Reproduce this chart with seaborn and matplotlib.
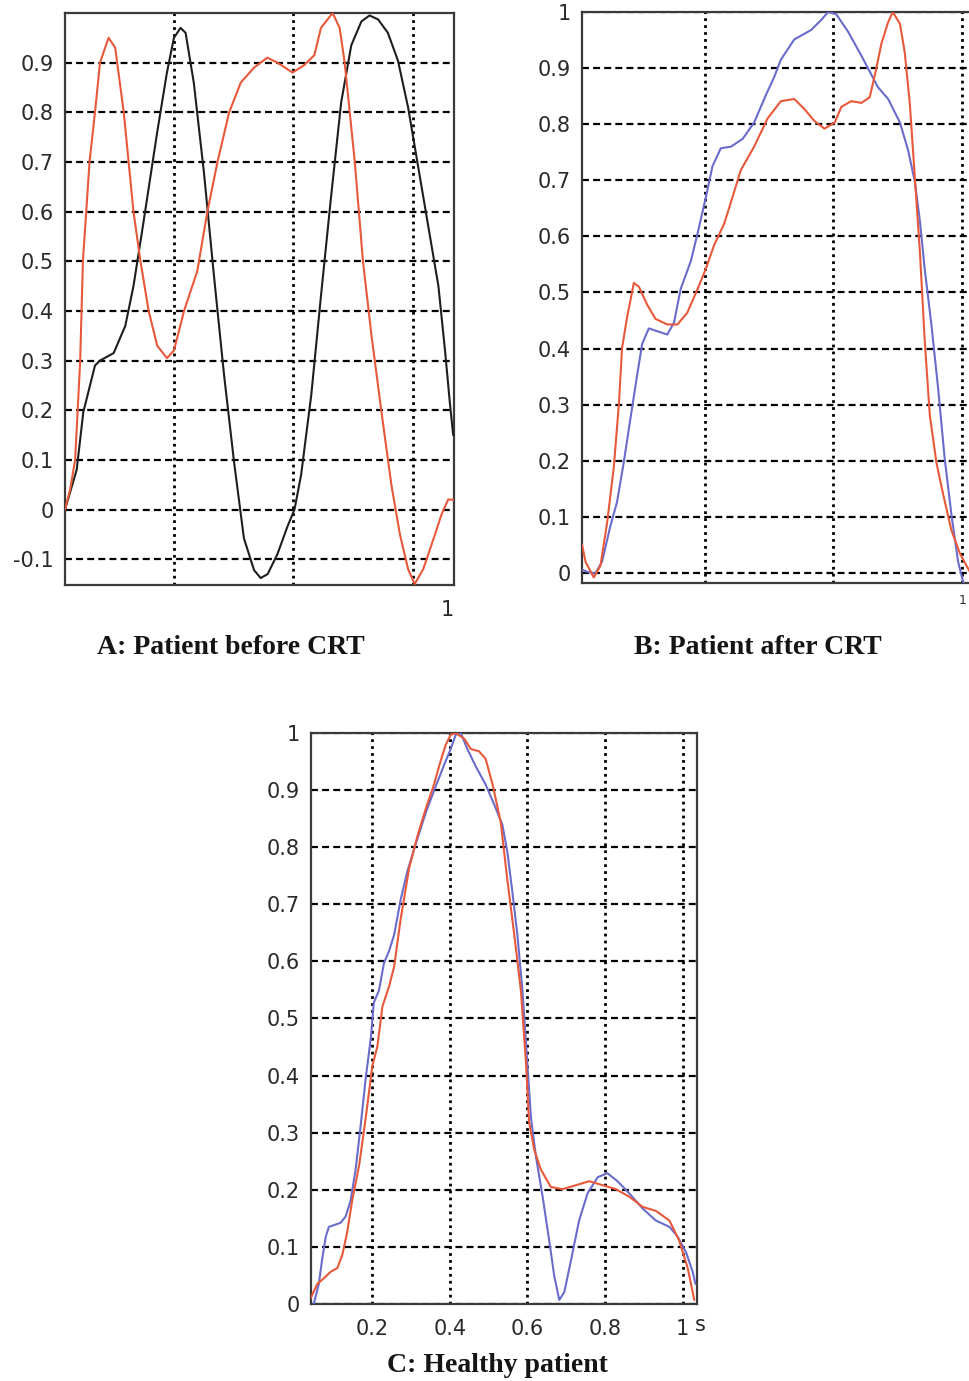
import numpy as np
import pandas as pd
import matplotlib
matplotlib.use("Agg")
import matplotlib.pyplot as plt
import seaborn as sns

# === Panel A: patient before CRT ===
a_black_x = [0.000, 0.030, 0.047, 0.077, 0.090, 0.125, 0.155, 0.176, 0.202, 0.237, 0.262,
             0.280, 0.297, 0.310, 0.331, 0.357, 0.383, 0.409, 0.435, 0.460, 0.486, 0.503,
             0.521, 0.546, 0.572, 0.590, 0.607, 0.633, 0.658, 0.684, 0.710, 0.736, 0.762,
             0.783, 0.805, 0.830, 0.856, 0.882, 0.908, 0.934, 0.960, 0.977, 0.990, 0.998]
a_black_y = [0.000, 0.080, 0.196, 0.290, 0.300, 0.315, 0.370, 0.450, 0.580, 0.760, 0.880,
             0.950, 0.970, 0.960, 0.860, 0.680, 0.470, 0.270, 0.093, -0.058, -0.122, -0.138,
             -0.130, -0.090, -0.034, 0.000, 0.070, 0.230, 0.430, 0.630, 0.820, 0.935, 0.983,
             0.995, 0.987, 0.960, 0.904, 0.810, 0.690, 0.570, 0.450, 0.320, 0.210, 0.150]

a_red_x = [0.000, 0.013, 0.026, 0.039, 0.046, 0.063, 0.077, 0.090, 0.112, 0.129, 0.151,
           0.176, 0.194, 0.215, 0.237, 0.262, 0.280, 0.306, 0.340, 0.366, 0.392, 0.422,
           0.452, 0.486, 0.520, 0.546, 0.585, 0.615, 0.641, 0.658, 0.688, 0.706, 0.719,
           0.745, 0.766, 0.788, 0.813, 0.839, 0.861, 0.882, 0.899, 0.921, 0.947, 0.968,
           0.985, 0.998]
a_red_y = [0.000, 0.040, 0.100, 0.300, 0.500, 0.700, 0.800, 0.900, 0.950, 0.930, 0.800,
           0.600, 0.500, 0.400, 0.330, 0.305, 0.320, 0.400, 0.480, 0.600, 0.700, 0.800,
           0.860, 0.890, 0.910, 0.900, 0.880, 0.895, 0.915, 0.970, 1.000, 0.970, 0.900,
           0.700, 0.500, 0.350, 0.200, 0.050, -0.050, -0.120, -0.150, -0.120, -0.060, -0.010,
           0.020, 0.020]

# === Panel B: patient after CRT ===
b_blue_x = [0.000, 0.013, 0.034, 0.051, 0.072, 0.089, 0.106, 0.123, 0.140, 0.153, 0.170,
            0.187, 0.217, 0.234, 0.251, 0.277, 0.294, 0.315, 0.332, 0.353, 0.379, 0.409,
            0.438, 0.468, 0.489, 0.506, 0.540, 0.583, 0.609, 0.626, 0.647, 0.677, 0.711,
            0.753, 0.779, 0.809, 0.830, 0.847, 0.860, 0.872, 0.889, 0.906, 0.923, 0.940,
            0.957, 0.970, 0.983]
b_blue_y = [0.006, 0.002, -0.001, 0.020, 0.083, 0.126, 0.196, 0.274, 0.351, 0.408, 0.436,
            0.432, 0.425, 0.446, 0.506, 0.556, 0.605, 0.669, 0.725, 0.757, 0.760, 0.774,
            0.803, 0.852, 0.884, 0.915, 0.951, 0.968, 0.986, 1.000, 0.996, 0.965, 0.922,
            0.866, 0.845, 0.803, 0.753, 0.697, 0.626, 0.542, 0.443, 0.330, 0.203, 0.104,
            0.020, -0.016, -0.030]

b_red_x = [0.000, 0.009, 0.030, 0.047, 0.064, 0.081, 0.094, 0.102, 0.115, 0.132, 0.145,
           0.166, 0.187, 0.217, 0.243, 0.268, 0.294, 0.315, 0.336, 0.362, 0.379, 0.404,
           0.438, 0.472, 0.506, 0.540, 0.566, 0.591, 0.617, 0.643, 0.660, 0.685, 0.711,
           0.732, 0.745, 0.762, 0.779, 0.791, 0.809, 0.821, 0.834, 0.847, 0.860, 0.872,
           0.885, 0.902, 0.919, 0.940, 0.962, 0.987]
b_red_y = [0.051, 0.020, -0.008, 0.013, 0.090, 0.189, 0.302, 0.401, 0.457, 0.517, 0.510,
           0.478, 0.453, 0.443, 0.443, 0.464, 0.506, 0.542, 0.584, 0.623, 0.661, 0.718,
           0.760, 0.810, 0.841, 0.845, 0.827, 0.806, 0.792, 0.803, 0.831, 0.841, 0.838,
           0.848, 0.887, 0.944, 0.982, 1.000, 0.979, 0.929, 0.838, 0.704, 0.570, 0.415,
           0.281, 0.196, 0.140, 0.076, 0.034, 0.002]

# === Panel C: healthy patient ===
c_blue_x = [0.049, 0.062, 0.071, 0.080, 0.088, 0.105, 0.118, 0.131, 0.144, 0.157, 0.170,
            0.183, 0.196, 0.204, 0.217, 0.230, 0.243, 0.256, 0.273, 0.290, 0.312, 0.338,
            0.363, 0.385, 0.402, 0.415, 0.428, 0.445, 0.467, 0.492, 0.514, 0.535, 0.548,
            0.561, 0.574, 0.587, 0.600, 0.609, 0.622, 0.639, 0.656, 0.669, 0.682, 0.695,
            0.712, 0.733, 0.755, 0.781, 0.806, 0.832, 0.862, 0.897, 0.931, 0.966, 0.987,
            1.009, 1.026, 1.033]
c_blue_y = [0.000, 0.035, 0.080, 0.118, 0.135, 0.139, 0.142, 0.153, 0.181, 0.236, 0.313,
            0.396, 0.465, 0.528, 0.549, 0.597, 0.618, 0.646, 0.708, 0.757, 0.806, 0.861,
            0.906, 0.944, 0.972, 0.997, 1.000, 0.972, 0.941, 0.910, 0.875, 0.840, 0.792,
            0.722, 0.646, 0.549, 0.417, 0.326, 0.257, 0.188, 0.111, 0.049, 0.007, 0.021,
            0.076, 0.146, 0.194, 0.222, 0.229, 0.215, 0.194, 0.167, 0.146, 0.135, 0.118,
            0.090, 0.056, 0.035]

c_red_x = [0.041, 0.058, 0.075, 0.092, 0.110, 0.123, 0.135, 0.148, 0.166, 0.183, 0.200,
           0.213, 0.226, 0.243, 0.256, 0.273, 0.295, 0.316, 0.338, 0.359, 0.376, 0.389,
           0.402, 0.415, 0.437, 0.454, 0.475, 0.492, 0.510, 0.531, 0.548, 0.566, 0.583,
           0.596, 0.604, 0.617, 0.634, 0.660, 0.690, 0.725, 0.759, 0.794, 0.828, 0.862,
           0.897, 0.931, 0.966, 0.991, 1.013, 1.030]
c_red_y = [0.010, 0.035, 0.045, 0.056, 0.063, 0.087, 0.125, 0.181, 0.243, 0.326, 0.417,
           0.451, 0.521, 0.556, 0.590, 0.674, 0.764, 0.819, 0.868, 0.910, 0.951, 0.979,
           0.997, 1.000, 0.990, 0.972, 0.968, 0.955, 0.910, 0.844, 0.743, 0.646, 0.549,
           0.424, 0.319, 0.271, 0.236, 0.205, 0.201, 0.208, 0.215, 0.208, 0.201, 0.188,
           0.170, 0.163, 0.146, 0.111, 0.063, 0.007]

# === Axis ticks ===
a_yticks = [-0.1, 0, 0.1, 0.2, 0.3, 0.4, 0.5, 0.6, 0.7, 0.8, 0.9]
a_ylabels = ["-0.1", "0", "0.1", "0.2", "0.3", "0.4", "0.5", "0.6", "0.7", "0.8", "0.9"]
a_xticks = [0.280, 0.586, 0.895, 1.0]
a_xlabels = ["", "", "", "1"]

b_yticks = [0, 0.1, 0.2, 0.3, 0.4, 0.5, 0.6, 0.7, 0.8, 0.9, 1.0]
b_ylabels = ["0", "0.1", "0.2", "0.3", "0.4", "0.5", "0.6", "0.7", "0.8", "0.9", "1"]
b_xticks = [0.313, 0.639, 0.967, 1.0]
b_xlabels = ["", "", "", ""]

c_yticks = b_yticks
c_ylabels = b_ylabels
c_xticks = [0.2, 0.4, 0.6, 0.8, 1.0]
c_xlabels = ["0.2", "0.4", "0.6", "0.8", "1"]

captions = ["A: Patient before CRT", "B: Patient after CRT", "C: Healthy patient"]

RED = "#e8583a"
BLUE = "#6a6ccc"
BLACK = "#1e1e1e"

sns.set_style("white")
plt.rcParams["font.family"] = ["DejaVu Sans"]
plt.rcParams["lines.scale_dashes"] = False

fig = plt.figure(figsize=(9.69, 13.81), dpi=100)
ax_a = fig.add_axes([0.0671, 0.5764, 0.4014, 0.4142])
ax_b = fig.add_axes([0.6006, 0.5778, 0.4056, 0.4135])
ax_c = fig.add_axes([0.3210, 0.0558, 0.3983, 0.4134])


def style_axes(ax, xlim, ylim, xticks, xlabels, yticks, ylabels):
    ax.set_xlim(*xlim)
    ax.set_ylim(*ylim)
    ax.set_xticks(xticks)
    ax.set_xticklabels(xlabels)
    ax.set_yticks(yticks)
    ax.set_yticklabels(ylabels)
    ax.set_xlabel("")
    ax.set_ylabel("")
    ax.yaxis.grid(True, color="black", linewidth=1.6, linestyle=(0, (5, 3)))
    ax.xaxis.grid(True, color="black", linewidth=2.0, linestyle=(0, (2, 3)))
    ax.tick_params(axis="both", direction="in", length=4, width=1.2, color="#333333",
                   labelsize=15, labelcolor="#2a2a2a", pad=8)
    ax.tick_params(axis="x", pad=11)
    for sp in ax.spines.values():
        sp.set_visible(True)
        sp.set_color("#3a3a3a")
        sp.set_linewidth(1.6)
    if ax.get_legend() is not None:
        ax.get_legend().remove()


def draw(ax, x, y, color):
    sns.lineplot(x=x, y=y, ax=ax, color=color, linewidth=1.5, sort=False,
                 estimator=None, zorder=3)


draw(ax_a, a_black_x, a_black_y, BLACK)
draw(ax_a, a_red_x, a_red_y, RED)
style_axes(ax_a, (0, 1), (-0.152, 1.0), a_xticks, a_xlabels, a_yticks, a_ylabels)
ax_a.get_xticklabels()[-1].set_ha("right")

draw(ax_b, b_blue_x, b_blue_y, BLUE)
draw(ax_b, b_red_x, b_red_y, RED)
style_axes(ax_b, (0, 1), (-0.018, 1.0), b_xticks, b_xlabels, b_yticks, b_ylabels)
# the "1" under panel B sits right at the cropped figure edge
fig.text(967 / 969, 1 - 600 / 1381, "1", ha="right", va="center", fontsize=9,
         color="#2a2a2a")

draw(ax_c, c_blue_x, c_blue_y, BLUE)
draw(ax_c, c_red_x, c_red_y, RED)
style_axes(ax_c, (0.042, 1.037), (0, 1.0), c_xticks, c_xlabels, c_yticks, c_ylabels)
ax_c.text(0.995, -0.02, "s", transform=ax_c.transAxes, ha="left", va="top",
          fontsize=15, color="#2a2a2a")

cap_font = dict(family="Liberation Serif", fontweight="bold", fontsize=20, color="#151515",
                ha="center", va="center")
fig.text(231 / 969, 1 - 648 / 1381, captions[0], **cap_font)
fig.text(758 / 969, 1 - 648 / 1381, captions[1], **cap_font)
fig.text(497 / 969, 1 - 1366 / 1381, captions[2], **cap_font)

fig.savefig("out.png", dpi=100, facecolor="white")
